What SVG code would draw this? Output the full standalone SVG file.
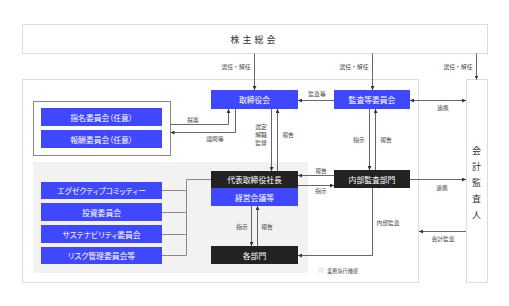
<svg xmlns="http://www.w3.org/2000/svg" width="509" height="306" viewBox="0 0 509 306">
<style>
text{font-family:"Noto Sans CJK JP","Noto Sans",sans-serif;}
.frame{fill:#fff;stroke:#dcdcdc;stroke-width:1;}
.blue{fill:#3f48ff;}
.blk{fill:#222;}
.bt{fill:#fff;font-size:7.8px;text-anchor:middle;dominant-baseline:central;font-feature-settings:"palt";}
.lb{fill:#444;font-size:5.8px;text-anchor:middle;dominant-baseline:central;}
.ln{fill:none;stroke:#666;stroke-width:1;}
</style>
<defs>
<marker id="ah" viewBox="0 0 6 6" refX="6" refY="3" markerWidth="4" markerHeight="4" orient="auto-start-reverse" markerUnits="userSpaceOnUse">
<path d="M0,0L6,3L0,6z" fill="#333"/>
</marker>
</defs>
<rect width="509" height="306" fill="#fff"/>

<g id="shareholders">
<rect class="frame" x="22.5" y="24.5" width="465" height="29"/>
<text x="254.5" y="39" font-size="9" fill="#333" text-anchor="middle" dominant-baseline="central" letter-spacing="3">株主総会</text>
</g>

<g id="main-frame">
<rect class="frame" x="22.5" y="79.5" width="396" height="203"/>
<rect x="33" y="162" width="275" height="111" fill="#f2f2f2"/>
</g>

<g id="auditor">
<rect class="frame" x="466.5" y="79.5" width="21" height="203"/>
<text x="476.5" y="150" font-size="9" fill="#333" text-anchor="middle" dominant-baseline="central">会</text>
<text x="476.5" y="166" font-size="9" fill="#333" text-anchor="middle" dominant-baseline="central">計</text>
<text x="476.5" y="182" font-size="9" fill="#333" text-anchor="middle" dominant-baseline="central">監</text>
<text x="476.5" y="198" font-size="9" fill="#333" text-anchor="middle" dominant-baseline="central">査</text>
<text x="476.5" y="214" font-size="9" fill="#333" text-anchor="middle" dominant-baseline="central">人</text>
</g>

<g id="committees-optional">
<rect x="33.5" y="101.5" width="137" height="54" fill="#fff" stroke="#888" stroke-width="1"/>
<rect class="blue" x="41" y="108" width="121" height="18"/>
<text class="bt" x="101.5" y="117">指名委員会（任意）</text>
<rect class="blue" x="41" y="130" width="121" height="18"/>
<text class="bt" x="101.5" y="139">報酬委員会（任意）</text>
</g>

<g id="board">
<rect class="blue" x="211" y="90" width="87" height="19"/>
<text class="bt" x="254.5" y="99.5">取締役会</text>
</g>

<g id="audit-committee">
<rect class="blue" x="334" y="90" width="76" height="19"/>
<text class="bt" x="372" y="99.5">監査等委員会</text>
</g>

<g id="ceo">
<rect class="blk" x="211" y="171" width="87" height="17"/>
<text class="bt" x="254.5" y="179.5">代表取締役社長</text>
<rect class="blue" x="211" y="188" width="87" height="18"/>
<text class="bt" x="254.5" y="197">経営会議等</text>
</g>

<g id="internal-audit">
<rect class="blk" x="334" y="170" width="76" height="18"/>
<text class="bt" x="372" y="179">内部監査部門</text>
</g>

<g id="departments">
<rect class="blk" x="211" y="246" width="87" height="18"/>
<text class="bt" x="254.5" y="255">各部門</text>
</g>

<g id="exec-committees">
<rect class="blue" x="41" y="182" width="121" height="17"/>
<text class="bt" x="101.5" y="190.5">エグゼクティブコミッティー</text>
<rect class="blue" x="41" y="203" width="121" height="18"/>
<text class="bt" x="101.5" y="212">投資委員会</text>
<rect class="blue" x="41" y="225" width="121" height="18"/>
<text class="bt" x="101.5" y="234">サステナビリティ委員会</text>
<rect class="blue" x="41" y="247" width="121" height="17"/>
<text class="bt" x="101.5" y="255.5">リスク管理委員会等</text>
</g>

<g id="legend">
<rect x="318" y="267" width="6" height="6" fill="#efefef"/>
<text x="327" y="270" font-size="5.2" fill="#555" dominant-baseline="central">業務執行機能</text>
</g>

<g id="connectors">
<path class="ln" d="M254.5,53.5V90" marker-end="url(#ah)"/>
<text class="lb" x="236" y="66">選任・解任</text>
<path class="ln" d="M372.5,53.5V90" marker-end="url(#ah)"/>
<text class="lb" x="354" y="66">選任・解任</text>
<path class="ln" d="M476.5,53.5V79.5" marker-end="url(#ah)"/>
<text class="lb" x="458" y="66">選任・解任</text>

<path class="ln" d="M334,100.5H298" marker-end="url(#ah)"/>
<text class="lb" x="317" y="93">監査等</text>
<path class="ln" d="M410,100.5H466" marker-start="url(#ah)" marker-end="url(#ah)"/>
<text class="lb" x="443" y="107">連携</text>

<path class="ln" d="M170.5,124.5H228.5V109" marker-end="url(#ah)"/>
<text class="lb" x="193" y="119">提案</text>
<path class="ln" d="M235.5,109V132.5H170.5" marker-end="url(#ah)"/>
<text class="lb" x="215" y="138">諮問等</text>

<path class="ln" d="M271.5,109V171" marker-end="url(#ah)"/>
<path class="ln" d="M277.5,171V109" marker-end="url(#ah)"/>
<text class="lb" x="261" y="126">選定</text>
<text class="lb" x="261" y="134">解職</text>
<text class="lb" x="261" y="142">監督</text>
<text class="lb" x="288" y="134">報告</text>

<path class="ln" d="M369.5,109V170" marker-end="url(#ah)"/>
<path class="ln" d="M375.5,170V109" marker-end="url(#ah)"/>
<text class="lb" x="359" y="139">指示</text>
<text class="lb" x="386" y="139">報告</text>

<path class="ln" d="M334,175.5H298" marker-end="url(#ah)"/>
<text class="lb" x="321" y="170">報告</text>
<path class="ln" d="M298,185.5H334" marker-end="url(#ah)"/>
<text class="lb" x="321" y="190">指示</text>

<path class="ln" d="M410,179.5H466" marker-end="url(#ah)"/>
<text class="lb" x="442" y="187">連携</text>

<path class="ln" d="M372.5,188V255.5H298" marker-end="url(#ah)"/>
<text class="lb" x="388" y="222">内部監査</text>

<path class="ln" d="M466,231.5H419" marker-end="url(#ah)"/>
<text class="lb" x="443" y="238">会計監査</text>

<path class="ln" d="M251.5,206V246" marker-end="url(#ah)"/>
<path class="ln" d="M257.5,246V206" marker-end="url(#ah)"/>
<text class="lb" x="242" y="226">指示</text>
<text class="lb" x="267" y="226">報告</text>

<path d="M162,190.5H186.5M162,212.5H186.5M162,234.5H186.5M162,255.5H186.5M186.5,255.5V179.5H211" fill="none" stroke="#888" stroke-width="1"/>
</g>
</svg>
